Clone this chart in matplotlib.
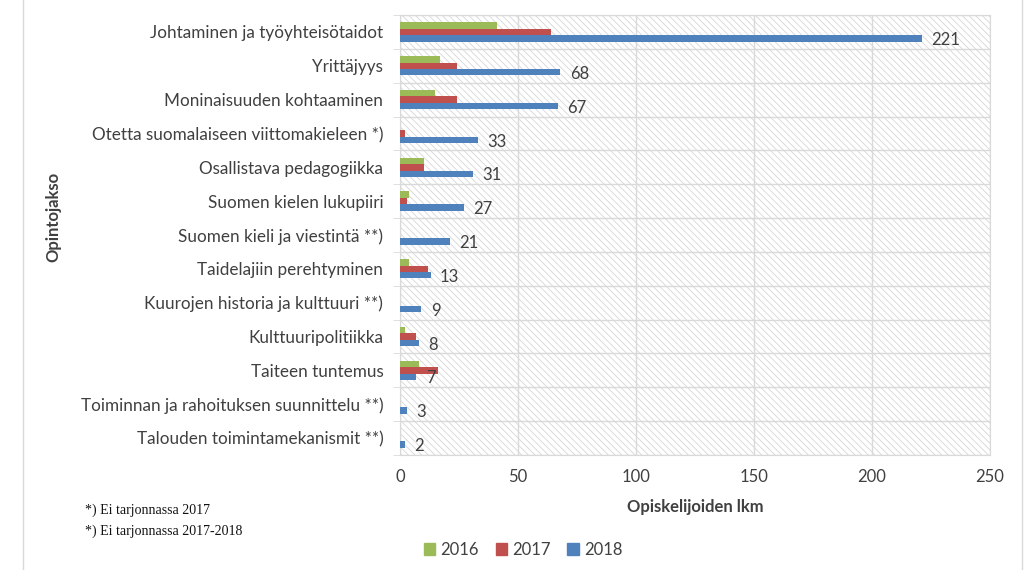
import matplotlib
matplotlib.use("Agg")
import matplotlib.pyplot as plt
import numpy as np
from matplotlib.patches import Rectangle
from matplotlib.lines import Line2D

categories = [
    "Johtaminen ja työyhteisötaidot",
    "Yrittäjyys",
    "Moninaisuuden kohtaaminen",
    "Otetta suomalaiseen viittomakieleen *)",
    "Osallistava pedagogiikka",
    "Suomen kielen lukupiiri",
    "Suomen kieli ja viestintä **)",
    "Taidelajiin perehtyminen",
    "Kuurojen historia ja kulttuuri **)",
    "Kulttuuripolitiikka",
    "Taiteen tuntemus",
    "Toiminnan ja rahoituksen suunnittelu **)",
    "Talouden toimintamekanismit **)",
]
v2016 = [41, 17, 15, 0, 10, 4, 0, 4, 0, 2, 8, 0, 0]
v2017 = [64, 24, 24, 2, 10, 3, 0, 12, 0, 7, 16, 0, 0]
v2018 = [221, 68, 67, 33, 31, 27, 21, 13, 9, 8, 7, 3, 2]
years = ["2016", "2017", "2018"]
colors = ["#9BBB59", "#C0504D", "#4F81BD"]
xticks = [0, 50, 100, 150, 200, 250]
footnotes = ["*) Ei tarjonnassa 2017", "*) Ei tarjonnassa 2017-2018"]

plt.rcParams['font.family'] = ['Lato', 'DejaVu Sans']
plt.rcParams['hatch.color'] = '#D6D6D6'
plt.rcParams['hatch.linewidth'] = 0.6

fig = plt.figure(figsize=(10.3, 5.7), dpi=100)
ax = fig.add_axes([0.3883, 0.2018, 0.9612 - 0.3883, 0.9737 - 0.2018])

n = len(categories)
y = np.arange(n)
h = 0.19
ax.add_patch(Rectangle((0, 0), 1, 1, transform=ax.transAxes, facecolor='white',
                       hatch='\\\\\\\\\\', edgecolor='#D6D6D6', linewidth=0, zorder=0))
for i, (vals, c, lab) in enumerate(zip([v2016, v2017, v2018], colors, years)):
    ax.barh(y + (i - 1) * h, vals, height=h, color=c, label=lab, zorder=3)

for yi, v in zip(y, v2018):
    ax.text(v + 4, yi + h + 0.05, str(v), va='center', ha='left', fontsize=12,
            color='#404040', zorder=4)

ax.set_ylim(n - 0.5, -0.5)
ax.set_xlim(0, 250)
ax.set_xticks(xticks)
ax.set_xticklabels([str(t) for t in xticks], fontsize=12, color='#404040')
ax.set_yticks(y)
ax.set_yticklabels(categories, fontsize=12.3, color='#404040')
ax.set_yticks(np.arange(n + 1) - 0.5, minor=True)
ax.tick_params(axis='y', which='major', length=0, pad=12)
ax.tick_params(axis='y', which='minor', length=5, color='#D9D9D9')
ax.tick_params(axis='x', length=0, pad=10)
ax.grid(axis='x', which='major', color='#D9D9D9', linewidth=1, zorder=1)
ax.grid(axis='y', which='minor', color='#D9D9D9', linewidth=1, zorder=1)
ax.set_axisbelow(True)
for s in ax.spines.values():
    s.set_color('#D9D9D9')

ax.set_xlabel("Opiskelijoiden lkm", fontsize=12, fontweight='bold', color='#404040', labelpad=10)
fig.text(0.052, 0.62, "Opintojakso", rotation=90, fontsize=12, fontweight='bold',
         color='#404040', ha='center', va='center')

fig.text(0.083, 0.098, footnotes[0], fontsize=10, family=['Liberation Serif', 'DejaVu Serif'], color='#111111')
fig.text(0.083, 0.062, footnotes[1], fontsize=10, family=['Liberation Serif', 'DejaVu Serif'], color='#111111')

handles = [Rectangle((0, 0), 1, 1, color=c) for c in colors]
fig.legend(handles, years, loc='center', bbox_to_anchor=(0.508, 0.035), ncol=3, frameon=False,
           fontsize=12, handlelength=0.7, handleheight=0.7, handletextpad=0.3, columnspacing=1.0,
           labelcolor='#404040')

fig.add_artist(Line2D([0.022, 0.022], [0, 1], color='#D9D9D9', linewidth=1, transform=fig.transFigure))
fig.add_artist(Line2D([0.992, 0.992], [0, 1], color='#D9D9D9', linewidth=1, transform=fig.transFigure))

fig.savefig("out.png", dpi=100)
